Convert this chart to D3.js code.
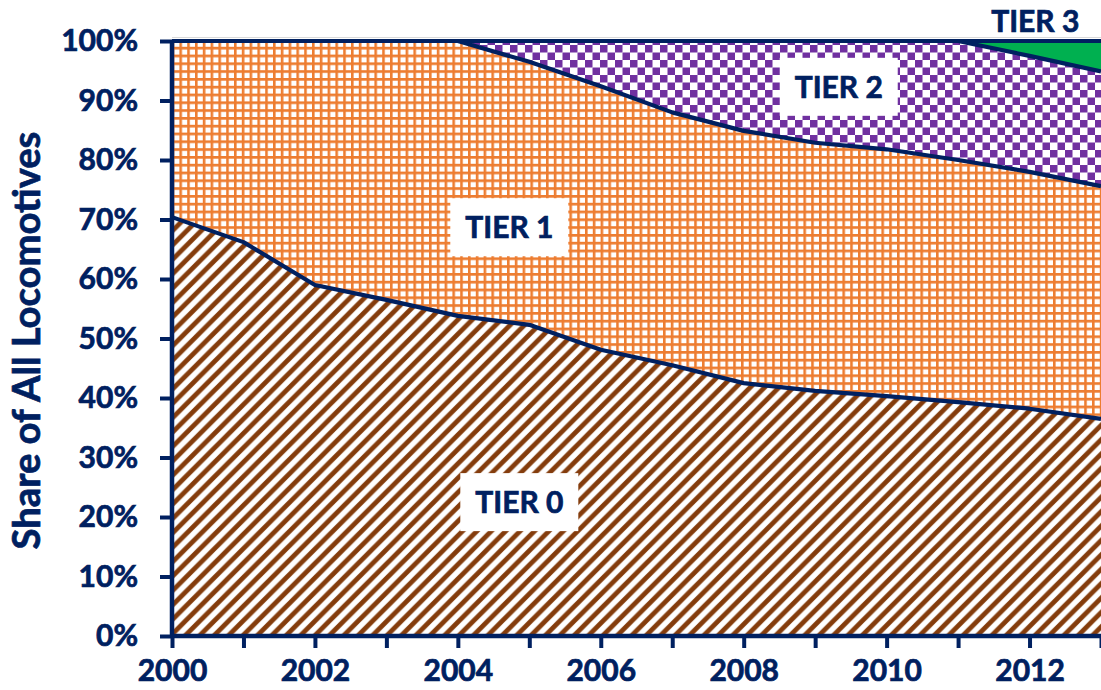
<!DOCTYPE html>
<html>
<head>
<meta charset="utf-8">
<script src="https://cdn.jsdelivr.net/npm/d3@7"></script>
<style>
  html, body { margin: 0; padding: 0; background: #fff; }
  svg { display: block; }
  text { font-family: Lato, "Open Sans", sans-serif; font-weight: 700; fill: #002060; stroke: #002060; stroke-width: 0.7px; }
</style>
</head>
<body>
<svg id="chart" width="1101" height="690"></svg>
<script>
// Share of the locomotive fleet by emission tier, in percent
const years = [2000, 2001, 2002, 2003, 2004, 2005, 2006, 2007, 2008, 2009, 2010, 2011, 2012, 2013];
const tier0 = [70.4, 66.2, 59.0, 56.5, 53.8, 52.3, 48.1, 45.5, 42.5, 41.2, 40.3, 39.3, 38.2, 36.5];
const tier1 = [29.6, 33.8, 41.0, 43.5, 46.2, 44.2, 44.3, 42.5, 42.4, 41.7, 41.5, 40.7, 39.8, 39.1];
const tier2 = [0, 0, 0, 0, 0, 3.5, 7.6, 12.0, 15.1, 17.1, 18.2, 20.0, 19.5, 19.3];
const tier3 = [0, 0, 0, 0, 0, 0, 0, 0, 0, 0, 0, 0, 2.5, 5.1];
const tierNames = ["TIER 0", "TIER 1", "TIER 2", "TIER 3"];
const yTicks = [0, 10, 20, 30, 40, 50, 60, 70, 80, 90, 100];
const xLabelYears = [2000, 2002, 2004, 2006, 2008, 2010, 2012];

const navy = "#002060";
const svg = d3.select("#chart");

const x = d3.scaleLinear().domain([2000, 2013]).range([172, 1101]);
const y = d3.scaleLinear().domain([0, 100]).range([636, 41]);

// Fill patterns for each tier
const defs = svg.append("defs");

const hatch = defs.append("pattern").attr("id", "p-tier0")
  .attr("patternUnits", "userSpaceOnUse").attr("width", 14.4).attr("height", 14.4);
hatch.append("rect").attr("width", 14.4).attr("height", 14.4).attr("fill", "#fff");
hatch.append("path")
  .attr("d", "M-3.6,3.6L3.6,-3.6M0,14.4L14.4,0M10.8,18L18,10.8")
  .attr("stroke", "#843c0c").attr("stroke-width", 4.8);

const grid = defs.append("pattern").attr("id", "p-tier1")
  .attr("patternUnits", "userSpaceOnUse").attr("width", 7.8).attr("height", 7.8);
grid.append("rect").attr("width", 7.8).attr("height", 7.8).attr("fill", "#fff");
grid.append("path").attr("d", "M1.3,0V7.8M0,1.3H7.8")
  .attr("stroke", "#ed7d31").attr("stroke-width", 2.6);

const checker = defs.append("pattern").attr("id", "p-tier2")
  .attr("patternUnits", "userSpaceOnUse").attr("width", 15).attr("height", 15);
checker.append("rect").attr("width", 15).attr("height", 15).attr("fill", "#fff");
checker.append("rect").attr("width", 7.5).attr("height", 7.5).attr("fill", "#7030a0");
checker.append("rect").attr("x", 7.5).attr("y", 7.5).attr("width", 7.5).attr("height", 7.5).attr("fill", "#7030a0");

const fills = ["url(#p-tier0)", "url(#p-tier1)", "url(#p-tier2)", "#00b050"];

// Stacked series
const rows = years.map((yr, i) => ({ year: yr, t0: tier0[i], t1: tier1[i], t2: tier2[i], t3: tier3[i] }));
const keys = ["t0", "t1", "t2", "t3"];
const series = d3.stack().keys(keys)(rows);

const area = d3.area()
  .x(d => x(d.data.year))
  .y0(d => y(d[0]))
  .y1(d => y(d[1]));
const topLine = d3.line()
  .x(d => x(d.data.year))
  .y(d => y(d[1]));

// faint chart border above the plot
svg.append("line").attr("x1", 172).attr("x2", 1101).attr("y1", 37.5).attr("y2", 37.5)
  .attr("stroke", "#d9d9d9").attr("stroke-width", 1);

svg.append("g").selectAll("path").data(series).join("path")
  .attr("d", area)
  .attr("fill", (d, i) => fills[i]);

svg.append("g").selectAll("path").data(series).join("path")
  .attr("d", topLine)
  .attr("fill", "none")
  .attr("stroke", navy)
  .attr("stroke-width", 4.2)
  .attr("stroke-linejoin", "round");

// Axes
const yAxis = svg.append("g").attr("transform", `translate(${x(2000)},0)`)
  .call(d3.axisLeft(y).tickValues(yTicks).tickFormat(d => d + "%").tickSize(12).tickPadding(22));
const xAxis = svg.append("g").attr("transform", `translate(0,${y(0)})`)
  .call(d3.axisBottom(x).tickValues(years).tickFormat(d => xLabelYears.includes(d) ? d : "").tickSize(12).tickPadding(12));

[yAxis, xAxis].forEach(g => {
  g.select(".domain").attr("stroke", navy).attr("stroke-width", 4.5);
  g.selectAll(".tick line").attr("stroke", navy).attr("stroke-width", 4);
  g.selectAll(".tick text").attr("fill", navy).attr("stroke", navy)
    .style("font-family", "Lato, 'Open Sans', sans-serif")
    .style("font-weight", 700).style("font-size", "30px");
});
xAxis.select(".domain").attr("d", `M${x(2000)},0H${x(2013)}`);
yAxis.select(".domain").attr("d", `M0,${y(0)}V${y(100)}`);

// Axis title, sized to span the plot's value range
const title = svg.append("text")
  .attr("transform", `translate(40,${(y(0) + y(100)) / 2 + 2}) rotate(-90)`)
  .attr("text-anchor", "middle")
  .style("font-size", "31px")
  .text("Share of All Locomotives");
const tLen = title.node().getComputedTextLength();
title.style("font-size", (31 * 418 / tLen).toFixed(1) + "px");

// Tier labels, anchored in data space
const labelAt = [
  { name: tierNames[0], year: 2004.86, value: 22.5, box: true },
  { name: tierNames[1], year: 2004.72, value: 68.7, box: true },
  { name: tierNames[2], year: 2009.33, value: 92.3, box: true },
  { name: tierNames[3], year: 2012.08, value: 103.4, box: false }
];
const lbl = svg.append("g").selectAll("g").data(labelAt).join("g")
  .attr("transform", d => `translate(${x(d.year)},${y(d.value)})`);
lbl.filter(d => d.box).append("rect")
  .attr("x", -59).attr("y", -29).attr("width", 118).attr("height", 58)
  .attr("fill", "#fff");
lbl.append("text")
  .attr("text-anchor", "middle")
  .attr("dy", "0.36em")
  .style("font-size", "30px")
  .text(d => d.name);
</script>
</body>
</html>
